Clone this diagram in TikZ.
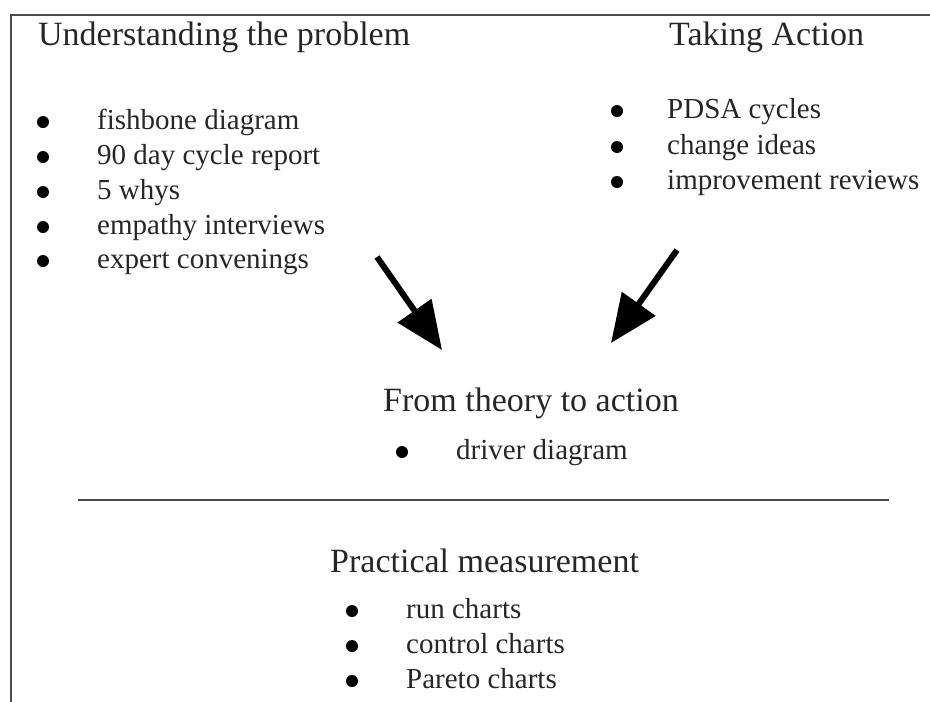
\documentclass[tikz,border=0pt]{standalone}
\usepackage{fontspec}
\setmainfont{Liberation Serif}
\usetikzlibrary{arrows.meta}
\tikzset{
  head/.style={anchor=base west, inner sep=0pt, font=\fontsize{34}{40}\selectfont, text=black!85},
  item/.style={anchor=base west, inner sep=0pt, font=\fontsize{29}{34}\selectfont, text=black!85},
  dot/.style={fill=black, draw=none},
  bigarrow/.style={line width=6pt, -{Triangle[length=48pt,width=40pt]}},
  rule/.style={draw=black!70, line width=2.5pt}
}
\begin{document}
\begin{tikzpicture}[x=1pt,y=-1pt]
\useasboundingbox (0,0) rectangle (930,702);
% frame
\draw[draw=black!70, line width=2pt] (11,702) -- (11,15) -- (930,15);
% headings
\node[head] (h1) at (38,45) {Understanding the problem};
\node[head] (h2) at (669,45) {Taking Action};
\node[head] (h3) at (383,411) {From theory to action};
\node[head] (h4) at (330,572) {Practical measurement};
% left list
\foreach \y/\t [count=\i] in {129/fishbone diagram,164/90 day cycle report,199/5 whys,234/empathy interviews,268/expert convenings}{
  \fill[dot] (43,\y-7) circle (6);
  \node[item] (l\i) at (97,\y) {\t};
}
% right list
\foreach \y/\t [count=\i] in {118/PDSA cycles,154/change ideas,189/improvement reviews}{
  \fill[dot] (617,\y-7) circle (6);
  \node[item] (r\i) at (667,\y) {\t};
}
% middle
\fill[dot] (402,452) circle (6);
\node[item] (m1) at (456,459) {driver diagram};
% bottom list
\foreach \y/\t [count=\i] in {618/run charts,653/control charts,688/Pareto charts}{
  \fill[dot] (352,\y-7) circle (6);
  \node[item] (b\i) at (406,\y) {\t};
}
% arrows
\coordinate (a1s) at (377,257);
\coordinate (a1e) at (442,350);
\coordinate (a2s) at (677,250);
\coordinate (a2e) at (611,343);
\draw[bigarrow] (a1s) -- (a1e);
\draw[bigarrow] (a2s) -- (a2e);
% divider
\coordinate (d1) at (78,500);
\coordinate (d2) at (889,500);
\draw[rule] (d1) -- (d2);
\end{tikzpicture}
\end{document}
